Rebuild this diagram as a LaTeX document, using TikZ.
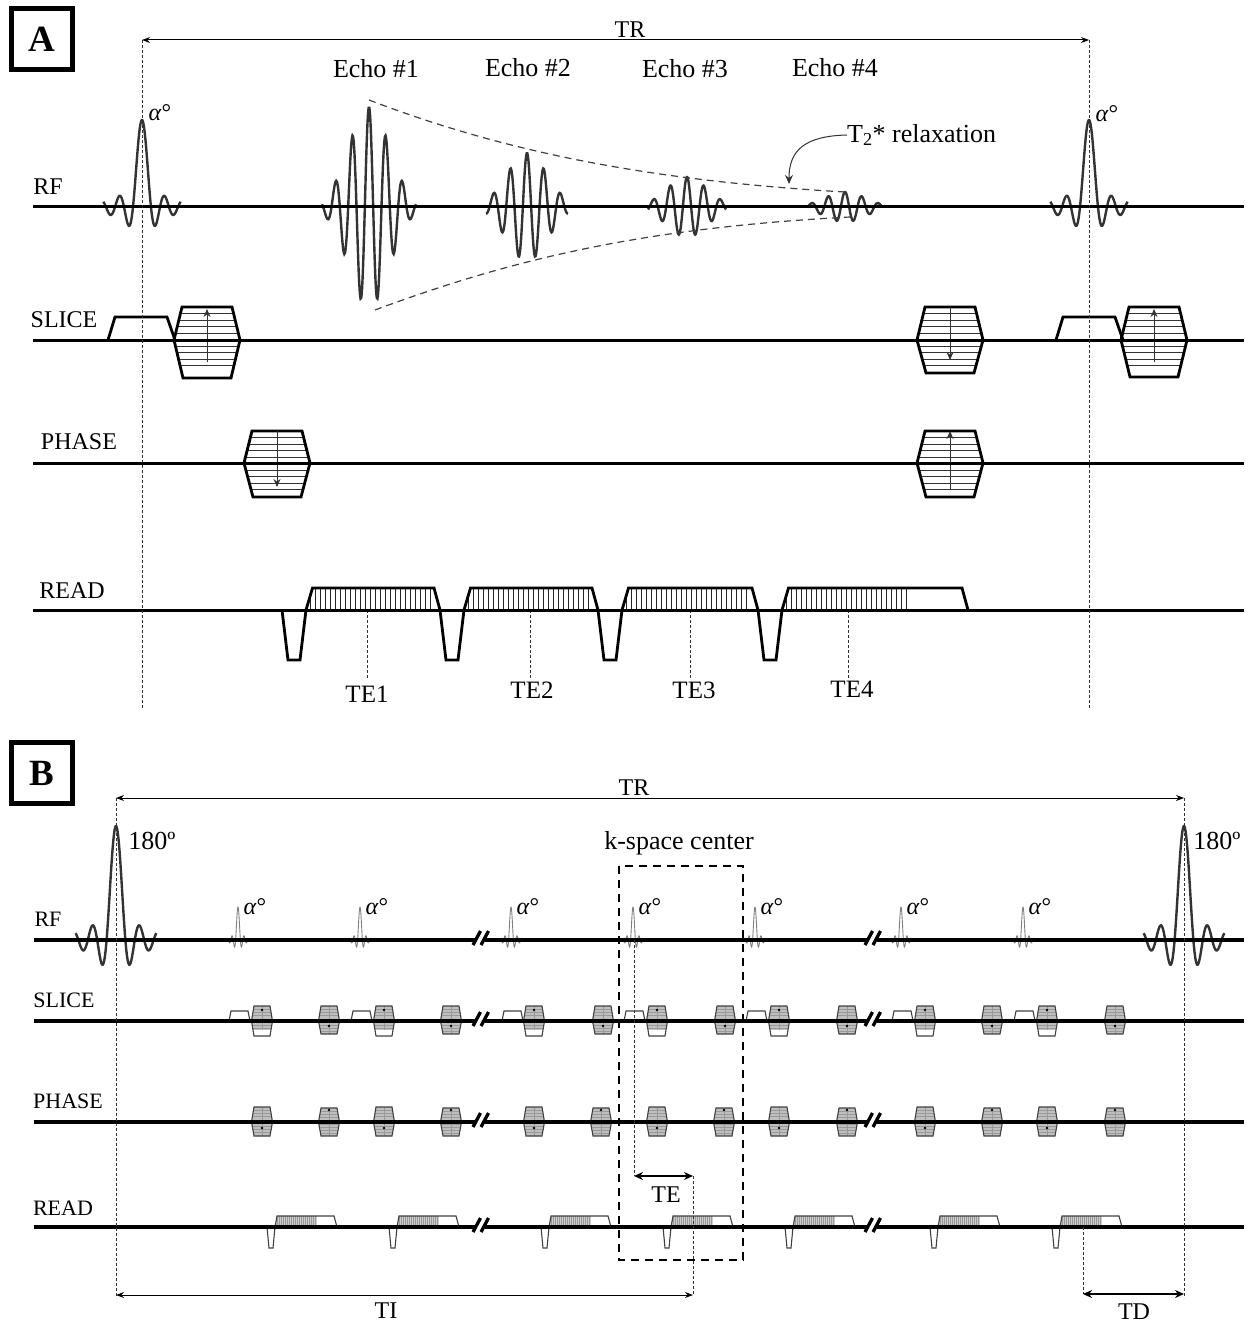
\documentclass[tikz,border=0pt]{standalone}
\usepackage{fontspec}
\setmainfont{Liberation Serif}
\usetikzlibrary{arrows.meta, positioning}
\newcommand{\sincpulse}[5][]{
  \draw[pulse,#1] plot[domain=-4.3:4.3,samples=140,smooth] ({#2+#5*\x},{#3-#4*sin(180*(\x+0.002))/(3.14159*(\x+0.002))});
}
\newcommand{\echopulse}[4]{
  \draw[pulse] plot[domain=-#4:#4,samples=140,smooth] ({#1+\x},{207-#2*cos(21.6*\x)*exp(-\x*\x/#3)});
}
\newcommand{\bighex}[7]{
  \begin{scope}
    \clip ({#1-25},#3) -- ({#1+25},#3) -- ({#1+33},#2) -- ({#1+24},#4) -- ({#1-24},#4) -- ({#1-33},#2) -- cycle;
    \clip ({#1-40},#3) rectangle ({#1+40},#5);
    \foreach \n in {1,...,11} {\draw[bighatch] ({#1-40},{#3+\n*6.5}) -- ({#1+40},{#3+\n*6.5});}
  \end{scope}
  \draw[bigedge] ({#1-25},#3) -- ({#1+25},#3) -- ({#1+33},#2) -- ({#1+24},#4) -- ({#1-24},#4) -- ({#1-33},#2) -- cycle;
  \draw[bigarrow] (#1,#6) -- (#1,#7);
}
\newcommand{\smallhex}[6]{
  \begin{scope}
    \clip ({#1-8},#3) -- ({#1+8},#3) -- ({#1+10.5},#2) -- ({#1+8},#4) -- ({#1-8},#4) -- ({#1-10.5},#2) -- cycle;
    \clip ({#1-12},#3) rectangle ({#1+12},#5);
    \fill[smallfill] ({#1-12},#3) rectangle ({#1+12},#5);
    \foreach \n in {1,...,9} {\draw[smallhatch] ({#1-12},{#3+\n*3.2}) -- ({#1+12},{#3+\n*3.2});}
    \draw[smallhatch] (#1,#3) -- (#1,#5);
  \end{scope}
  \draw[smalledge] ({#1-8},#3) -- ({#1+8},#3) -- ({#1+10.5},#2) -- ({#1+8},#4) -- ({#1-8},#4) -- ({#1-10.5},#2) -- cycle;
  \fill (#1,#6) circle (1.3);
}
\begin{document}
\begin{tikzpicture}[
    x=1pt, y=-1pt,
    every node/.style={align=center, font=\fontsize{24}{28}\selectfont, inner sep=0pt},
    wide/.style={font=\fontsize{26}{30}\selectfont},
    mid/.style={font=\fontsize{25}{30}\selectfont},
    chan/.style={font=\fontsize{22}{26}\selectfont},
    panel/.style={draw, line width=5pt, minimum size=61pt, font=\fontsize{37}{40}\selectfont\bfseries},
    pulse/.style={line width=2.4pt, black!80},
    tinypulse/.style={line width=0.9pt, black!50},
    axisA/.style={line width=3pt},
    axisB/.style={line width=4pt},
    guide/.style={densely dashed, line width=1pt, black!80},
    envelope/.style={dash pattern=on 7pt off 5pt, line width=1.2pt, black!75},
    kbox/.style={line width=1.9pt, dash pattern=on 8pt off 6pt},
    span/.style={{Stealth[length=8pt,width=6pt]}-{Stealth[length=8pt,width=6pt]}, line width=1pt},
    spanbold/.style={{Stealth[length=9pt,width=8pt]}-{Stealth[length=9pt,width=8pt]}, line width=1.5pt},
    grad/.style={line width=2.8pt, line join=miter},
    gradthin/.style={line width=1pt, black!85},
    bighatch/.style={line width=0.9pt, black!80},
    bigedge/.style={line width=2.8pt},
    bigarrow/.style={-{Stealth[length=8pt,width=7pt]}, line width=1pt, black!80},
    smallfill/.style={fill=black!25},
    smallhatch/.style={line width=0.4pt, black!40},
    smalledge/.style={line width=1.1pt, black!75},
    slash/.style={line width=3.3pt}
]
\useasboundingbox (0,0) rectangle (1247,1324);

\node[panel] (a) at (42,39.5) {A};
\node[panel] (b) at (42,773) {B};

\coordinate (trAl) at (142,40);
\coordinate (trAr) at (1089,40);
\coordinate (endAl) at (142,708);
\coordinate (endAr) at (1089,708);
\node (trA) at (630,30) {TR};
\foreach \ename/\ex/\ey/\etext in {e1/376/69/1, e2/528/68/2, e3/685/69/3, e4/835/68/4}
  \node[wide] (\ename) at (\ex,\ey) {Echo \#\etext};
\node (rfA) at (48,187) {RF};
\node (slA) at (64,320) {SLICE};
\node (phA) at (79,442) {PHASE};
\node (rdA) at (72,591) {READ};
\node (alA1) at (160,113) {\textit{α}°};
\node (alA2) at (1107,114) {\textit{α}°};
\node[wide, anchor=west] (rel) at (847,135) {T\textsubscript{2}* relaxation};
\coordinate (relend) at (789,184);

\sincpulse{142}{207}{87}{9}
\sincpulse{1089}{207}{87}{9}
\echopulse{369}{100}{815}{47}
\echopulse{527}{54}{815}{41}
\echopulse{687}{30}{815}{39}
\echopulse{845}{15}{815}{37}

\draw[envelope] (369,100) .. controls (500,150) and (640,180) .. (845,192);
\draw[envelope] (375,310) .. controls (510,260) and (640,228) .. (850,217);
\draw[-{Stealth[length=9pt,width=8pt]}, line width=1pt, black!80] (rel.west) .. controls (805,136) and (789,150) .. (relend);

\foreach \tx in {108,1056}
  \draw[grad] (\tx,340) -- ({\tx+7},317) -- ({\tx+59},317) -- ({\tx+67},340);
\bighex{207}{340}{307}{378}{368}{362}{309}
\bighex{950}{340}{307}{373}{373}{307}{360}
\bighex{1154}{340}{307}{377}{368}{362}{309}
\bighex{277}{463}{431}{497}{497}{431}{487}
\bighex{950}{463}{431}{497}{497}{490}{431}

\foreach \s/\e/\h in {282/440/433, 440/598/592, 598/758/751, 758/968/908} {
  \begin{scope}
    \clip ({\s+24},610) -- ({\s+30.5},588) -- ({\e-6},588) -- (\e,610) -- cycle;
    \foreach \n in {0,...,42} \draw[gradthin] ({\s+28+\n*5},588) -- ({\s+28+\n*5},610);
    \fill[white] (\h,586) rectangle (1000,612);
  \end{scope}
  \draw[grad] (\s,610) -- ({\s+6},660) -- ({\s+18},660) -- ({\s+24},610) -- ({\s+30.5},588) -- ({\e-6},588) -- (\e,610);
}
\foreach \tx/\tlab/\ty in {367/1/694, 530/2/690, 690/3/690, 848/4/689} {
  \node[mid] (te\tlab) at ({\tx+(\tlab>1)*2+(\tlab>2)*2},\ty) {TE\tlab};
  \coordinate (teb\tlab) at (\tx,610);
  \coordinate (tee\tlab) at (\tx,678);
  \draw[guide] (teb\tlab) -- (tee\tlab);
}

\foreach \ay/\an in {207/rfaxis, 340/slaxis, 463/phaxis, 610/rdaxis} {
  \coordinate (\an) at (33,\ay);
  \coordinate (\an e) at (1244,\ay);
  \draw[axisA] (\an) -- (\an e);
}
\draw[guide] (trAl) -- (endAl);
\draw[guide] (trAr) -- (endAr);
\draw[span] (trAl) -- (trAr);

\coordinate (trBl) at (116,798);
\coordinate (trBr) at (1184,798);
\coordinate (endBl) at (116,1298);
\coordinate (endBr) at (1184,1298);
\node (trB) at (634,788) {TR};
\node[wide] (kc) at (679,843) {k-space center};
\node[chan] (rfB) at (48,919) {RF};
\node[chan] (slB) at (64,1000) {SLICE};
\node[chan] (phB) at (68,1101) {PHASE};
\node[chan] (rdB) at (63,1208) {READ};
\node[wide] (p180l) at (152,841) {180º};
\node[wide] (p180r) at (1217,841) {180º};

\sincpulse{116}{940}{114}{9.4}
\sincpulse{1184}{940}{114}{9.4}
\foreach \cx in {238,360,511,633,755,901,1023} {
  \sincpulse[tinypulse]{\cx}{940}{33}{2.4}
  \node (al\cx) at ({\cx+17},907) {\textit{α}°};
}
\foreach \tx/\hx/\nx in {229/262/329, 351/384/451, 502/534/603, 624/657/725, 746/779/847, 892/925/992, 1014/1047/1115} {
  \draw[smalledge] (\tx,1021) -- ({\tx+2},1011) -- ({\tx+19},1011) -- ({\tx+21},1021);
  \smallhex{\hx}{1021}{1006}{1036}{1030}{1010}
  \smallhex{\nx}{1021}{1006}{1034}{1034}{1026}
}
\foreach \hx/\nx in {262/329, 384/451, 534/601, 657/724, 779/847, 925/992, 1047/1115} {
  \smallhex{\hx}{1122}{1107}{1136}{1136}{1128}
  \smallhex{\nx}{1122}{1108}{1136}{1136}{1110}
}
\foreach \s in {267,389,541,663,785,930,1052} {
  \begin{scope}
    \clip ({\s+8},1227) -- ({\s+10},1216) -- ({\s+67},1216) -- ({\s+70},1227) -- cycle;
    \fill[black!20] ({\s+8},1214) rectangle ({\s+50},1229);
    \foreach \n in {0,...,19} \draw[smallhatch] ({\s+10+\n*2},1214) -- ({\s+10+\n*2},1229);
  \end{scope}
  \draw[smalledge] (\s,1227) -- ({\s+2},1248) -- ({\s+6},1248) -- ({\s+8},1227) -- ({\s+10},1216) -- ({\s+67},1216) -- ({\s+70},1227);
}

\foreach \ay/\an in {940/rfbaxis, 1021/slbaxis, 1122/phbaxis, 1227/rdbaxis} {
  \coordinate (\an) at (34,\ay);
  \coordinate (\an e) at (1244,\ay);
  \draw[axisB] (\an) -- (\an e);
  \foreach \bx in {473,865} {
    \fill[white] ({\bx+3},{\ay-3}) rectangle ({\bx+12},{\ay+3});
    \draw[slash] (\bx,{\ay+5}) -- ({\bx+7.5},{\ay-9});
    \draw[slash] ({\bx+8},{\ay+5}) -- ({\bx+15.5},{\ay-9});
  }
}

\coordinate (kc1) at (619,866);
\coordinate (kc2) at (743,1260);
\draw[kbox] (kc1) rectangle (kc2);

\coordinate (teA) at (634,940);
\coordinate (teB) at (634,1176);
\coordinate (teC) at (693,1176);
\coordinate (tiA) at (116,1295);
\coordinate (tiB) at (693,1295);
\coordinate (tdA) at (1083,1294);
\coordinate (tdB) at (1184,1294);
\coordinate (tdC) at (1083,1227);
\draw[guide] (teA) -- (teB);
\draw[guide] (teC) -- (tiB);
\draw[guide] (tdC) -- (tdA);
\draw[guide] (trBl) -- (endBl);
\draw[guide] (trBr) -- (endBr);
\draw[span] (trBl) -- (trBr);
\draw[span] (tiA) -- (tiB);
\draw[spanbold] (teB) -- (teC);
\draw[spanbold] (tdA) -- (tdB);
\node (teN) at (666,1195) {TE};
\node (tiN) at (386,1311) {TI};
\node (tdN) at (1134,1312) {TD};
\end{tikzpicture}
\end{document}
